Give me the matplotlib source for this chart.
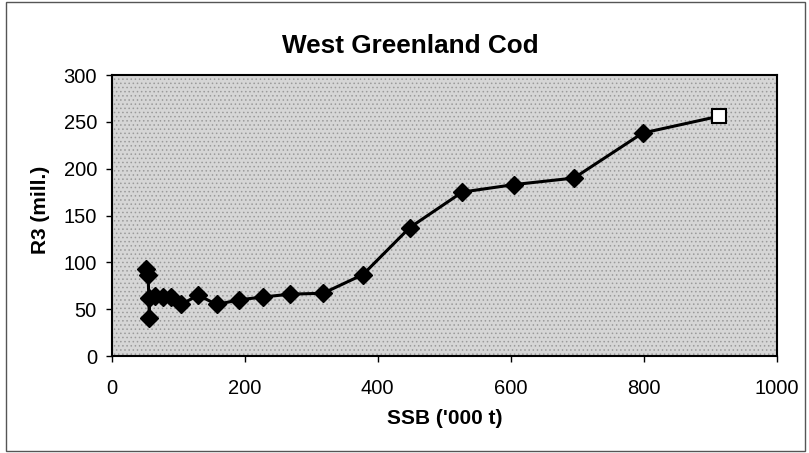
import matplotlib
matplotlib.use("Agg")
import matplotlib.pyplot as plt
from matplotlib.patches import Rectangle

# values (SSB in '000 t, R3 in millions)
ssb = [52, 55, 57, 57, 65, 77, 90, 105, 130, 158, 192, 228, 268, 318,
       378, 448, 527, 605, 695, 798, 913]
r3 = [93, 87, 41, 62, 64, 63, 63, 55, 65, 55, 60, 63, 66, 67,
      87, 137, 175, 183, 190, 238, 256]

x_ticks = [0, 200, 400, 600, 800, 1000]
y_ticks = [0, 50, 100, 150, 200, 250, 300]

plt.rcParams["font.family"] = ["Liberation Sans", "DejaVu Sans"]
plt.rcParams["hatch.linewidth"] = 0.6

W, H = 809, 453
fig = plt.figure(figsize=(W / 100, H / 100), dpi=100)
fig.patch.set_facecolor("white")

# outer chart-area frame
fig.patches.append(Rectangle((6 / W, 2 / H), 799 / W, 449 / H,
                             transform=fig.transFigure, fill=False,
                             edgecolor="#555555", linewidth=1.0))

ax = fig.add_axes([111.5 / W, 1 - 356 / H, 665.5 / W, 281 / H])
ax.set_facecolor("#d6d6d6")
# stippled look of the plot area
ax.add_patch(Rectangle((0, 0), 1, 1, transform=ax.transAxes,
                       facecolor="#d6d6d6", edgecolor="#9a9a9a",
                       hatch="....", linewidth=0, zorder=0))

# line + filled diamonds, last point as open square
ax.plot(ssb, r3, color="black", linewidth=2.2, zorder=3)
ax.plot(ssb[:-1], r3[:-1], linestyle="none", marker="D", markersize=8.8,
        color="black", zorder=4)
ax.plot(ssb[-1:], r3[-1:], linestyle="none", marker="s", markersize=10,
        markerfacecolor="white", markeredgecolor="black",
        markeredgewidth=1.5, zorder=5)

ax.set_xlim(0, 1000)
ax.set_ylim(0, 300)
ax.set_xticks(x_ticks)
ax.set_yticks(y_ticks)

for s in ax.spines.values():
    s.set_color("black")
    s.set_linewidth(1.5)

ax.tick_params(axis="x", direction="out", length=4, width=1, pad=12.5,
               labelsize=14.5)
ax.tick_params(axis="y", direction="out", length=4, width=1, pad=6.5,
               labelsize=14.5)

fig.text(410 / W, 1 - 53 / H, "West Greenland Cod", ha="center",
         va="baseline", fontsize=18.8, fontweight="bold")
fig.text(444.5 / W, 1 - 424 / H, "SSB ('000 t)", ha="center",
         va="baseline", fontsize=15, fontweight="bold")
fig.text(40 / W, 1 - 210 / H, "R3 (mill.)", ha="center", va="center",
         rotation=90, fontsize=15, fontweight="bold")

fig.savefig("out.png", dpi=100)
